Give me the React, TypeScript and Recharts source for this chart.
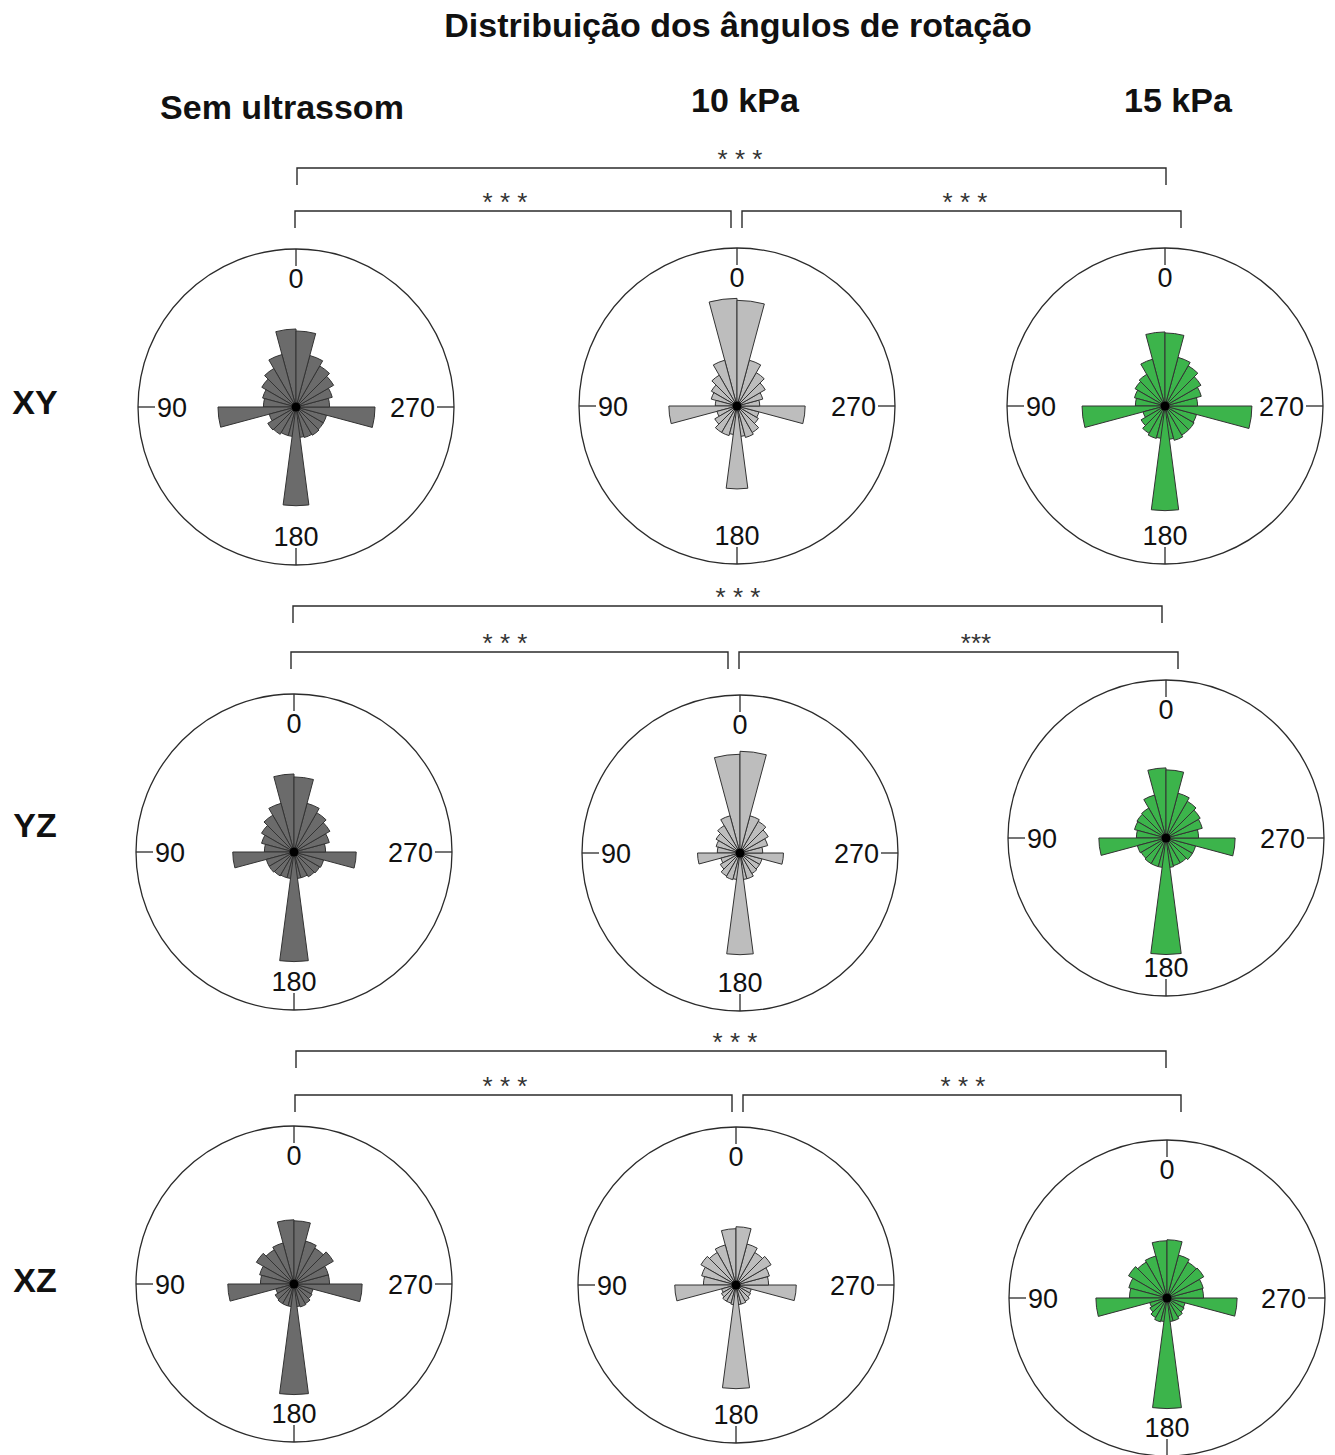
import React from "react";
import {
  PolarAngleAxis,
  PolarRadiusAxis,
  RadialBar,
  RadialBarChart,
  Text,
} from "recharts";

// 15-degree bins, 0 at top, angles growing counter-clockwise (90 left, 180 bottom, 270 right)
const binStarts = [
  "0", "15", "30", "45", "60", "75", "90", "105", "120", "135", "150", "165",
  "180", "195", "210", "225", "240", "255", "270", "285", "300", "315", "330", "345",
];
// the 180 peak is drawn on a grid centred on the labels (172.5-187.5)
const binCentres = binStarts;
const angleTicks = [0, 90, 180, 270];

// relative frequency per bin
const xySem = [7.9, 5.5, 4.5, 4.0, 3.5, 3.3, 7.9, 2.8, 3.3, 3.2, 3.0, 3.0, 3.1, 3.2, 3.3, 3.2, 3.2, 8.0, 3.4, 3.8, 4.4, 4.8, 5.4, 7.7];
const xy10 = [10.9, 4.8, 3.6, 3.0, 2.7, 2.2, 6.9, 2.1, 2.6, 3.1, 3.1, 2.9, 3.1, 3.3, 3.1, 2.5, 2.3, 6.9, 2.3, 2.7, 3.3, 3.9, 4.8, 10.7];
const xy15 = [7.5, 4.9, 3.7, 3.5, 3.2, 3.0, 8.4, 2.3, 2.8, 3.2, 3.4, 3.3, 3.4, 3.6, 3.4, 3.4, 3.3, 8.8, 3.3, 3.8, 4.2, 4.7, 5.1, 7.4];
const yzSem = [7.9, 5.1, 4.3, 3.8, 3.4, 3.0, 6.2, 2.9, 2.9, 2.8, 2.7, 2.7, 2.7, 2.7, 2.9, 3.0, 3.1, 6.3, 3.2, 3.7, 4.2, 4.6, 5.1, 7.6];
const yz10 = [10.0, 3.9, 3.2, 2.8, 2.5, 2.3, 4.3, 2.0, 2.3, 2.7, 2.8, 2.7, 2.7, 2.7, 2.4, 2.3, 2.3, 4.4, 2.3, 2.9, 3.3, 3.7, 3.9, 10.3];
const yz15 = [7.1, 4.5, 3.5, 3.4, 3.3, 3.0, 6.8, 3.0, 2.9, 3.0, 3.0, 3.0, 3.0, 2.9, 2.9, 3.1, 3.1, 7.0, 3.3, 3.8, 4.0, 4.3, 4.7, 6.9];
const xzSem = [6.5, 4.3, 4.0, 4.4, 3.6, 3.4, 6.7, 1.9, 2.2, 2.3, 2.3, 2.3, 2.3, 2.4, 2.3, 2.1, 2.0, 6.9, 3.6, 3.6, 4.6, 4.2, 4.5, 6.4];
const xz10 = [5.7, 4.2, 3.8, 4.1, 3.6, 3.3, 6.2, 1.5, 1.7, 1.9, 1.9, 2.0, 2.0, 2.0, 1.9, 1.7, 1.6, 6.1, 3.3, 3.5, 4.1, 3.8, 4.3, 5.9];
const xz15 = [5.8, 4.4, 4.2, 4.5, 4.0, 3.8, 7.2, 1.8, 2.0, 2.3, 2.5, 2.4, 2.4, 2.4, 2.2, 2.0, 1.9, 7.1, 3.7, 3.8, 4.3, 4.2, 4.5, 5.9];
// peak centred on 180, per plot (XY, YZ, XZ x Sem, 10, 15)
const peak180 = [10.0, 8.4, 10.6, 11.1, 10.3, 11.8, 11.2, 10.5, 11.2];

const conditions = ["Sem ultrassom", "10 kPa", "15 kPa"];
const planes = ["XY", "YZ", "XZ"];
const significance = ["* * *", "* * *", "* * *", "* * *", "* * *", "***", "* * *", "* * *", "* * *"];

const FONT = "'Liberation Sans', Arial, Helvetica, sans-serif";
const INK = "#2b2b2b";
const fills = ["#6b6b6b", "#bdbdbd", "#3cb44b"];
const R = 158;
const BOX = 340;

const roses = [
  { values: xySem, peak: peak180[0], fill: fills[0], cx: 296, cy: 407 },
  { values: xy10, peak: peak180[1], fill: fills[1], cx: 737, cy: 406 },
  { values: xy15, peak: peak180[2], fill: fills[2], cx: 1165, cy: 406 },
  { values: yzSem, peak: peak180[3], fill: fills[0], cx: 294, cy: 852 },
  { values: yz10, peak: peak180[4], fill: fills[1], cx: 740, cy: 853 },
  { values: yz15, peak: peak180[5], fill: fills[2], cx: 1166, cy: 838 },
  { values: xzSem, peak: peak180[6], fill: fills[0], cx: 294, cy: 1284 },
  { values: xz10, peak: peak180[7], fill: fills[1], cx: 736, cy: 1285 },
  { values: xz15, peak: peak180[8], fill: fills[2], cx: 1167, cy: 1298 },
];

// comparison brackets per row: outer (Sem vs 15), inner left (Sem vs 10), inner right (10 vs 15)
const brackets = [
  { outer: [297, 1166, 168], left: [295, 731, 211], right: [742, 1181, 211], starX: [740, 505, 965] },
  { outer: [293, 1162, 606], left: [291, 728, 652], right: [739, 1178, 652], starX: [738, 505, 976] },
  { outer: [296, 1166, 1051], left: [295, 732, 1095], right: [743, 1181, 1095], starX: [735, 505, 963] },
];

function AngleTick(props: any) {
  const { x, y, payload } = props;
  const v = Number(payload.value);
  let tx = x;
  let ty = y;
  let anchor: "start" | "middle" | "end" = "middle";
  let vAnchor: "start" | "middle" | "end" = "middle";
  if (v === 0) {
    ty = y + 3;
    vAnchor = "start";
  } else if (v === 90) {
    tx = x + 2;
    anchor = "start";
  } else if (v === 180) {
    ty = y - 2;
    vAnchor = "end";
  } else {
    tx = x - 2;
    anchor = "end";
  }
  return (
    <Text x={tx} y={ty} textAnchor={anchor} verticalAnchor={vAnchor} fontSize={27} fontFamily={FONT} fill="#111">
      {String(v)}
    </Text>
  );
}

const layer: React.CSSProperties = { position: "absolute", left: 0, top: 0 };
const noMargin = { top: 0, right: 0, bottom: 0, left: 0 };

function Wedges({ data, fill, startAngle }: { data: any[]; fill: string; startAngle: number }) {
  return (
    <div style={layer}>
      <RadialBarChart
        width={BOX}
        height={BOX}
        cx={BOX / 2}
        cy={BOX / 2}
        innerRadius={0}
        outerRadius={R}
        startAngle={startAngle}
        endAngle={startAngle + 360}
        layout="centric"
        data={data}
        barCategoryGap={0}
        barGap={0}
        margin={noMargin}
      >
        <PolarAngleAxis dataKey="bin" type="category" tick={false} tickLine={false} axisLine={false} />
        <PolarRadiusAxis type="number" domain={[0, 16]} tick={false} axisLine={false} />
        <RadialBar dataKey="freq" fill={fill} stroke="#333" strokeWidth={1} isAnimationActive={false} />
      </RadialBarChart>
    </div>
  );
}

function Rose({ values, peak, fill, cx, cy }: { values: number[]; peak: number; fill: string; cx: number; cy: number }) {
  const data = binStarts.map((bin, i) => ({ bin, freq: values[i] }));
  const peakData = binCentres.map((bin) => ({ bin, freq: bin === "180" ? peak : null }));
  const tickData = angleTicks.map((deg) => ({ deg }));
  return (
    <div style={{ position: "absolute", left: cx - BOX / 2, top: cy - BOX / 2, width: BOX, height: BOX }}>
      {/* circular frame with the 0/90/180/270 ticks */}
      <div style={layer}>
        <RadialBarChart
          width={BOX}
          height={BOX}
          cx={BOX / 2}
          cy={BOX / 2}
          innerRadius={0}
          outerRadius={R}
          startAngle={90}
          endAngle={450}
          data={tickData}
          margin={noMargin}
        >
          <PolarAngleAxis
            type="number"
            dataKey="deg"
            domain={[0, 360]}
            ticks={angleTicks}
            orientation="inner"
            tickSize={17}
            axisLineType="circle"
            axisLine={{ stroke: INK, strokeWidth: 1.3 }}
            tickLine={{ stroke: INK, strokeWidth: 1.3 }}
            tick={AngleTick}
          />
          <PolarRadiusAxis tick={false} axisLine={false} />
        </RadialBarChart>
      </div>
      {/* bins [a, a+15) */}
      <Wedges data={data} fill={fill} startAngle={105} />
      {/* bin centred on 180 */}
      <Wedges data={peakData} fill={fill} startAngle={97.5} />
    </div>
  );
}

export default function App() {
  return (
    <div style={{ position: "absolute", left: 0, top: 0, width: 1335, height: 1455, background: "#fff", fontFamily: FONT }}>
      {roses.map((r, i) => (
        <Rose key={i} {...r} />
      ))}
      <svg width={1335} height={1455} style={{ position: "absolute", left: 0, top: 0, pointerEvents: "none" }}>
        <text x={738} y={37} textAnchor="middle" fontSize={34} fontWeight="bold" fill="#111" fontFamily={FONT}>
          Distribuição dos ângulos de rotação
        </text>
        <text x={282} y={119} textAnchor="middle" fontSize={34} fontWeight="bold" fill="#111" fontFamily={FONT}>
          {conditions[0]}
        </text>
        <text x={745} y={112} textAnchor="middle" fontSize={34} fontWeight="bold" fill="#111" fontFamily={FONT}>
          {conditions[1]}
        </text>
        <text x={1178} y={112} textAnchor="middle" fontSize={34} fontWeight="bold" fill="#111" fontFamily={FONT}>
          {conditions[2]}
        </text>
        {planes.map((p, i) => (
          <text key={p} x={35} y={[414, 837, 1292][i]} textAnchor="middle" fontSize={34} fontWeight="bold" fill="#111" fontFamily={FONT}>
            {p}
          </text>
        ))}
        {brackets.map((b, i) => {
          const legs = 17;
          const segs = [b.outer, b.left, b.right];
          return (
            <g key={i} stroke={INK} strokeWidth={1.4} fill="none">
              {segs.map(([x1, x2, y], j) => (
                <path key={j} d={`M${x1},${y + legs} V${y} H${x2} V${y + legs}`} />
              ))}
              {segs.map(([, , y], j) => (
                <text
                  key={"s" + j}
                  x={b.starX[j]}
                  y={y}
                  textAnchor="middle"
                  fontSize={26}
                  stroke="none"
                  fill="#333"
                  fontFamily={FONT}
                >
                  {significance[i * 3 + j]}
                </text>
              ))}
            </g>
          );
        })}
        {roses.map((r, i) => (
          <circle key={i} cx={r.cx} cy={r.cy} r={4.5} fill="#000" />
        ))}
      </svg>
    </div>
  );
}
